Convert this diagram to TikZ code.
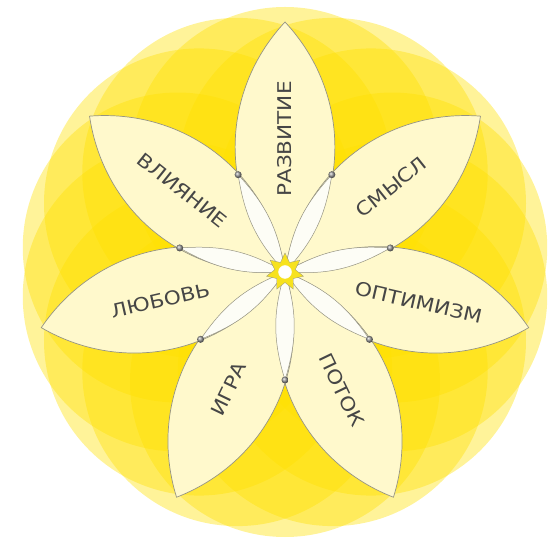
\documentclass[tikz,border=0pt]{standalone}
\usepackage{fontspec}
\setmainfont{DejaVu Sans}
\newfontfamily\petalfont[FakeStretch=1.14]{DejaVu Sans}
\usetikzlibrary{shapes.geometric, positioning}

\definecolor{sunyellow}{RGB}{255,224,0}
\definecolor{staryellow}{RGB}{247,226,30}
\definecolor{petalcream}{RGB}{255,249,204}
\definecolor{petalline}{RGB}{150,148,130}
\definecolor{lenswhite}{RGB}{253,253,246}
\definecolor{labelgray}{RGB}{70,70,70}

\begin{document}
\begin{tikzpicture}[
    x=1bp, y=1bp,
    halo/.style={fill=sunyellow, fill opacity=0.4},
    petal/.style={draw=petalline, line width=0.7bp, fill=petalcream},
    overlap/.style={draw=petalline, line width=0.5bp, fill=lenswhite},
    hub_star/.style={fill=staryellow, draw=petalline, line width=0.3bp, line join=miter},
    joint/.style={circle, inner sep=0pt, minimum size=7bp, shading=ball, ball color=gray!80},
    petal_label/.style={text=labelgray, font=\petalfont\fontsize{19}{19}\selectfont, inner sep=0pt}
]
\useasboundingbox (-285,-272) rectangle (264,272);

% background circles
\foreach \a in {90,115.714,...,449} \fill[halo] (\a:110) circle (155);

\coordinate (O) at (0,0);
\coordinate (tip_razv) at (90:250);
\coordinate (tip_smysl) at (38.57:250);
\coordinate (tip_optim) at (-12.86:250);
\coordinate (tip_potok) at (-64.29:250);
\coordinate (tip_igra) at (-115.71:250);
\coordinate (tip_lubov) at (-167.14:250);
\coordinate (tip_vliyan) at (141.43:250);

\coordinate (d1) at (64.29:108);
\coordinate (d2) at (12.86:108);
\coordinate (d3) at (-38.57:108);
\coordinate (d4) at (-90:108);
\coordinate (d5) at (-141.43:108);
\coordinate (d6) at (167.14:108);
\coordinate (d7) at (115.71:108);

% petals
\draw[petal] (O) to[bend right=43] (tip_razv) to[bend right=43] (O);
\draw[petal] (O) to[bend right=43] (tip_smysl) to[bend right=43] (O);
\draw[petal] (O) to[bend right=43] (tip_optim) to[bend right=43] (O);
\draw[petal] (O) to[bend right=43] (tip_potok) to[bend right=43] (O);
\draw[petal] (O) to[bend right=43] (tip_igra) to[bend right=43] (O);
\draw[petal] (O) to[bend right=43] (tip_lubov) to[bend right=43] (O);
\draw[petal] (O) to[bend right=43] (tip_vliyan) to[bend right=43] (O);

% overlaps near the middle
\draw[overlap] (O) to[bend right=17] (d1) to[bend right=17] (O);
\draw[overlap] (O) to[bend right=17] (d2) to[bend right=17] (O);
\draw[overlap] (O) to[bend right=17] (d3) to[bend right=17] (O);
\draw[overlap] (O) to[bend right=17] (d4) to[bend right=17] (O);
\draw[overlap] (O) to[bend right=17] (d5) to[bend right=17] (O);
\draw[overlap] (O) to[bend right=17] (d6) to[bend right=17] (O);
\draw[overlap] (O) to[bend right=17] (d7) to[bend right=17] (O);

\node[joint] (j1) at (d1) {};
\node[joint] (j2) at (d2) {};
\node[joint] (j3) at (d3) {};
\node[joint] (j4) at (d4) {};
\node[joint] (j5) at (d5) {};
\node[joint] (j6) at (d6) {};
\node[joint] (j7) at (d7) {};

% star in the middle
\draw[hub_star] (90:19) -- (64.29:10.5) -- (38.57:19) -- (12.86:10.5) -- (-12.86:19) -- (-38.57:10.5)
  -- (-64.29:19) -- (-90:10.5) -- (-115.71:19) -- (-141.43:10.5) -- (-167.14:19) -- (167.14:10.5)
  -- (141.43:19) -- (115.71:10.5) -- cycle;
\node[circle, fill=white, draw=lenswhite, minimum size=13bp, inner sep=0pt] (core) at (O) {};

\node[petal_label, rotate=90] (razv) at (90:133) {РАЗВИТИЕ};
\node[petal_label, rotate=38.57] (smysl) at (38.57:136) {СМЫСЛ};
\node[petal_label, rotate=-12.86] (optim) at (-12.86:137) {ОПТИМИЗМ};
\node[petal_label, rotate=-64.29] (potok) at (-64.29:131) {ПОТОК};
\node[petal_label, rotate=64.29] (igra) at (-115.71:130) {ИГРА};
\node[petal_label, rotate=12.86] (lubov) at (-167.14:128) {ЛЮБОВЬ};
\node[petal_label, rotate=-38.57] (vliyan) at (141.43:131) {ВЛИЯНИЕ};
\end{tikzpicture}
\end{document}
